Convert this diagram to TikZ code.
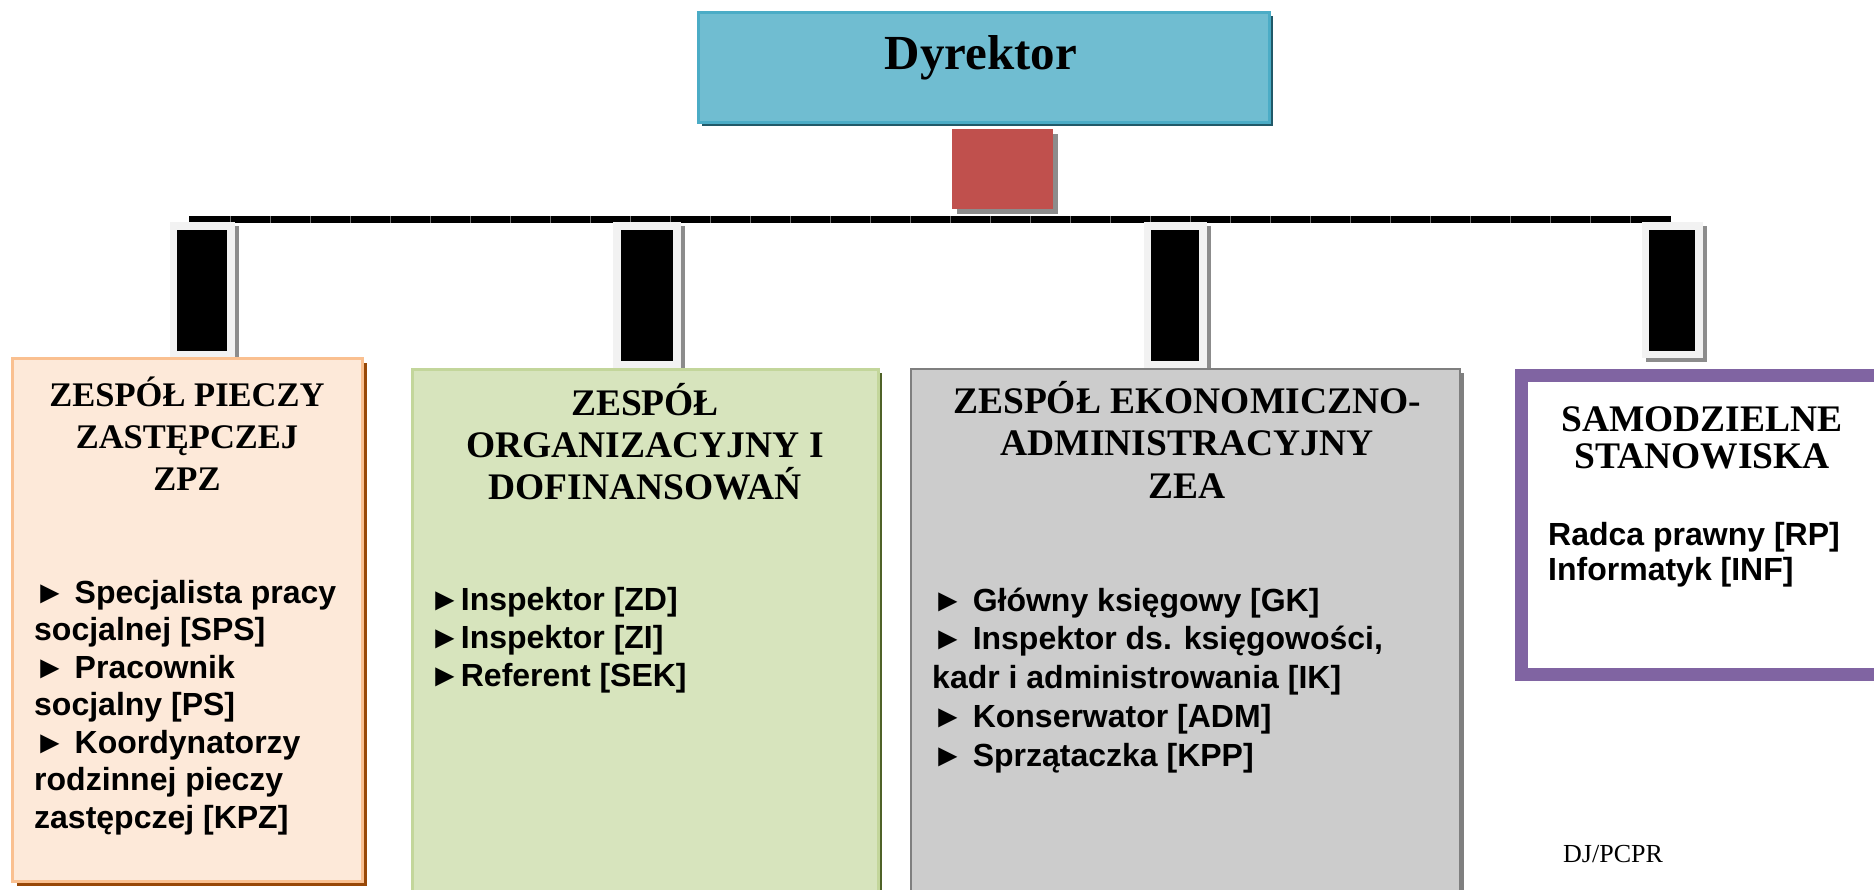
\documentclass[tikz,border=0pt]{standalone}
\usepackage{fontspec}
\setmainfont{Liberation Serif}
\newfontfamily\sansf{Liberation Sans}
\usetikzlibrary{shadows}
\definecolor{dirfill}{HTML}{70BDD1}
\definecolor{dirline}{HTML}{4BACC6}
\definecolor{dirshade}{HTML}{215968}
\definecolor{redfill}{HTML}{C0504D}
\definecolor{shade}{HTML}{8C8C8C}
\definecolor{connout}{HTML}{F2F2F2}
\definecolor{orfill}{HTML}{FDE9D9}
\definecolor{orline}{HTML}{FAC090}
\definecolor{orshade}{HTML}{984807}
\definecolor{grfill}{HTML}{D7E4BD}
\definecolor{grline}{HTML}{C3D69B}
\definecolor{grshade}{HTML}{4F6228}
\definecolor{gyfill}{HTML}{CCCCCC}
\definecolor{gyline}{HTML}{7F7F7F}
\definecolor{purp}{HTML}{8064A2}
\tikzset{
  box/.style={rectangle, inner sep=0pt, outer sep=0pt, anchor=north west},
  shd/.style 2 args={drop shadow={shadow xshift=#1pt, shadow yshift=-#1pt, fill=#2, opacity=1}},
  conn/.style={box, fill=connout, shd={4}{shade}},
  connin/.style={box, fill=black},
  title/.style={inner sep=0pt, anchor=north, align=center},
  body/.style={inner sep=0pt, anchor=north west, align=left},
}
\newcommand{\tfont}[2]{\bfseries\fontsize{#1}{#2}\selectfont\lineskiplimit=-1000pt}
\newcommand{\bfont}[1]{\sansf\bfseries\fontsize{32}{#1}\selectfont\lineskiplimit=-1000pt}
\begin{document}
\begin{tikzpicture}[x=1pt,y=-1pt]
\useasboundingbox (0,0) rectangle (1874,889);
% director
\node[box, minimum width=571pt, minimum height=110pt, fill=dirfill, draw=dirline, line width=3pt, shd={4}{dirshade}] (dir) at (698,12) {};
\node[font=\bfseries\fontsize{49}{55}\selectfont, anchor=base, inner sep=0pt] (dirtext) at (981,69) {Dyrektor};
% red link
\node[box, minimum width=101pt, minimum height=80pt, fill=redfill, shd={5}{shade}] (link) at (952,129) {};
% bar
\node[box, minimum width=1482pt, minimum height=7pt, fill=black] (bar) at (189,216) {};
\foreach \i in {1,...,36} \draw[black!55, line width=0.8pt] (190+40*\i,216) -- (190+40*\i,223);
% connectors
\node[conn, minimum width=65pt, minimum height=136pt] (c1) at (170,222) {};
\node[connin, minimum width=50pt, minimum height=121pt] (c1in) at (177,230) {};
\node[conn, minimum width=68pt, minimum height=146pt] (c2) at (613,222) {};
\node[connin, minimum width=52pt, minimum height=131pt] (c2in) at (621,230) {};
\node[conn, minimum width=63pt, minimum height=146pt] (c3) at (1144,222) {};
\node[connin, minimum width=48pt, minimum height=131pt] (c3in) at (1151,230) {};
\node[conn, minimum width=61pt, minimum height=136pt] (c4) at (1642,222) {};
\node[connin, minimum width=46pt, minimum height=121pt] (c4in) at (1649,230) {};
% boxes
\node[box, minimum width=350pt, minimum height=523pt, fill=orfill, draw=orline, line width=3pt, shd={5}{orshade}] (b1) at (12,358) {};
\node[box, minimum width=466pt, minimum height=540pt, fill=grfill, draw=grline, line width=3pt, shd={4}{grshade}] (b2) at (412,369) {};
\node[box, minimum width=549pt, minimum height=540pt, fill=gyfill, draw=gyline, line width=2pt, shd={4}{gyline}] (b3) at (911,369) {};
\fill[shade] (1520,374) rectangle (1895,686);
\node[box, minimum width=362pt, minimum height=299pt, fill=white, draw=purp, line width=13pt] (b4) at (1521.5,375.5) {};
% titles
\node[title, font=\tfont{34.5}{42}] (t1) at (187,370) {\rule{0pt}{36pt}ZESPÓŁ PIECZY\\ZASTĘPCZEJ\\ZPZ};
\node[title, font=\tfont{37.5}{42}] (t2) at (645,379) {\rule{0pt}{36pt}ZESPÓŁ\\ORGANIZACYJNY I\\DOFINANSOWAŃ};
\node[title, font=\tfont{37.5}{42.5}] (t3) at (1187,377) {\rule{0pt}{36pt}ZESPÓŁ EKONOMICZNO-\\ADMINISTRACYJNY\\ZEA};
\node[title, font=\tfont{37.5}{37.5}] (t4) at (1702,395) {\rule{0pt}{36pt}SAMODZIELNE\\STANOWISKA};
% bodies
\node[body, font=\bfont{37.5}] (l1) at (34,577) {\rule{0pt}{26pt}► Specjalista pracy\\socjalnej [SPS]\\► Pracownik\\socjalny [PS]\\► Koordynatorzy\\rodzinnej pieczy\\zastępczej [KPZ]};
\node[body, font=\bfont{38}] (l2) at (429,584) {\rule{0pt}{26pt}►Inspektor [ZD]\\►Inspektor [ZI]\\►Referent [SEK]};
\node[body, font=\bfont{38.7}] (l3) at (932,585) {\rule{0pt}{26pt}► Główny księgowy [GK]\\► Inspektor ds. księgowości,\\kadr i administrowania [IK]\\► Konserwator [ADM]\\► Sprzątaczka [KPP]};
\node[body, font=\bfont{35}] (l4) at (1548,519) {\rule{0pt}{26pt}Radca prawny [RP]\\Informatyk [INF]};
\node[anchor=base west, inner sep=0pt, font=\fontsize{26}{30}\selectfont] (dj) at (1563,862) {DJ/PCPR};
\end{tikzpicture}
\end{document}
